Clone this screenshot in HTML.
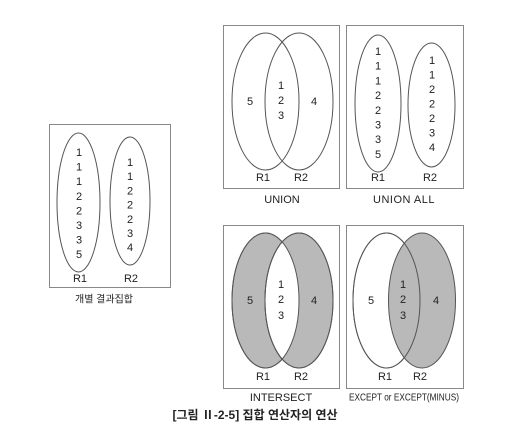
<!DOCTYPE html>
<html><head><meta charset="utf-8"><style>
html,body{margin:0;padding:0;background:#fff}
svg{display:block}
text{font-family:"Liberation Sans","Noto Sans CJK KR",sans-serif;fill:#222;text-anchor:middle;dominant-baseline:central}
.n{font-size:11px}
.c{font-size:11px}
</style></head><body>
<svg width="528" height="436" viewBox="0 0 528 436">
<defs>
<clipPath id="clipL"><ellipse cx="265.5" cy="300.5" rx="33.5" ry="67.5"/></clipPath>
</defs>
<g fill="none" stroke="#555" stroke-width="1">
<!-- individual -->
<g>
<rect x="49.5" y="124.5" width="121" height="163" stroke="#888"/>
<ellipse cx="78.5" cy="202.5" rx="21.5" ry="69.5"/>
<ellipse cx="130" cy="201" rx="20" ry="64"/>
</g>
<!-- union -->
<g>
<rect x="223.5" y="25.5" width="116" height="163" stroke="#888"/>
<ellipse cx="265.5" cy="101.5" rx="33.5" ry="68.5"/>
<ellipse cx="299" cy="101.5" rx="34" ry="68.5"/>
</g>
<g>
<rect x="346.5" y="25.5" width="117" height="163" stroke="#888"/>
<ellipse cx="378" cy="103.5" rx="23" ry="68.5"/>
<ellipse cx="431.5" cy="105" rx="23.5" ry="62"/>
</g>
<g>
<rect x="223.5" y="225.5" width="116" height="163" stroke="#888"/>
<ellipse cx="265.5" cy="300.5" rx="33.5" ry="67.5" fill="#b9b9b9"/>
<ellipse cx="299" cy="300.5" rx="34" ry="67.5" fill="#b9b9b9"/>
<ellipse cx="299" cy="300.5" rx="34" ry="67.5" fill="#fff" clip-path="url(#clipL)"/>
<ellipse cx="265.5" cy="300.5" rx="33.5" ry="67.5"/>
<ellipse cx="299" cy="300.5" rx="34" ry="67.5"/>
</g>
<g>
<rect x="346.5" y="225.5" width="117" height="163" stroke="#888"/>
<ellipse cx="386.5" cy="300.5" rx="33.5" ry="67.5" fill="#fff"/>
<ellipse cx="422" cy="300.5" rx="33.5" ry="67.5" fill="#b9b9b9"/>
<ellipse cx="386.5" cy="300.5" rx="33.5" ry="67.5"/>
</g>
</g>
<g class="n">
<!-- individual numbers -->
<text x="79" y="153">1</text><text x="79" y="167.6">1</text><text x="79" y="182.2">1</text><text x="79" y="196.8">2</text><text x="79" y="211.4">2</text><text x="79" y="226">3</text><text x="79" y="240.6">3</text><text x="79" y="255.2">5</text>
<text x="130" y="163">1</text><text x="130" y="177.2">1</text><text x="130" y="191.4">2</text><text x="130" y="205.6">2</text><text x="130" y="219.8">2</text><text x="130" y="234">3</text><text x="130" y="248.2">4</text>
<text x="80" y="279">R1</text><text x="131" y="279">R2</text>
<!-- union -->
<text x="250" y="102">5</text><text x="281" y="86">1</text><text x="281" y="101">2</text><text x="281" y="116">3</text><text x="314" y="102">4</text>
<text x="263" y="178">R1</text><text x="301" y="178">R2</text>
<!-- union all -->
<text x="378" y="52">1</text><text x="378" y="66.7">1</text><text x="378" y="81.4">1</text><text x="378" y="96.1">2</text><text x="378" y="110.8">2</text><text x="378" y="125.5">3</text><text x="378" y="140.2">3</text><text x="378" y="154.9">5</text>
<text x="432" y="61">1</text><text x="432" y="75.5">1</text><text x="432" y="90">2</text><text x="432" y="104.5">2</text><text x="432" y="119">2</text><text x="432" y="133.5">3</text><text x="432" y="148">4</text>
<text x="378" y="178">R1</text><text x="430" y="178">R2</text>
<!-- intersect -->
<text x="250" y="301">5</text><text x="281" y="285">1</text><text x="281" y="300">2</text><text x="281" y="316">3</text><text x="314" y="301">4</text>
<text x="263" y="377">R1</text><text x="301" y="377">R2</text>
<!-- except -->
<text x="371" y="301">5</text><text x="403" y="285">1</text><text x="403" y="300">2</text><text x="403" y="316">3</text><text x="436" y="301">4</text>
<text x="385" y="377">R1</text><text x="420" y="377">R2</text>
</g>
<text class="c" x="282" y="200">UNION</text>
<text class="c" x="404" y="200" letter-spacing="0.5">UNION ALL</text>
<text class="c" x="281" y="398">INTERSECT</text>
<text x="404" y="398" font-size="10" textLength="110" lengthAdjust="spacingAndGlyphs">EXCEPT or EXCEPT(MINUS)</text>
<text x="104" y="300" font-size="10">개별 결과집합</text>
<text x="255" y="415" font-size="12" font-weight="bold">[그림 Ⅱ-2-5] 집합 연산자의 연산</text>
</svg>
</body></html>
